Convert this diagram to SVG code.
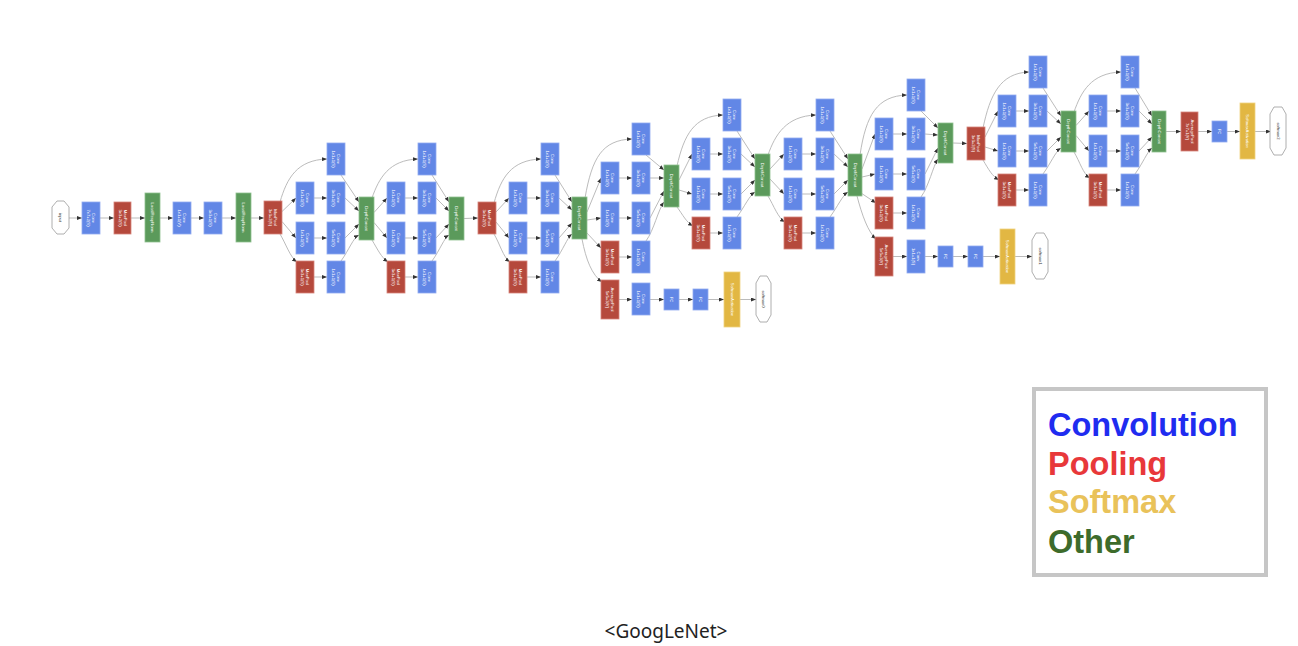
<svg xmlns="http://www.w3.org/2000/svg" width="1298" height="646" viewBox="0 0 1298 646">
<style>
.cv{fill:#6287e6;stroke:#92abf0;stroke-width:0.8}
.pl{fill:#b5493c;stroke:#d6847a;stroke-width:0.8}
.ot{fill:#5b9a5b;stroke:#8fc08f;stroke-width:0.8}
.sm{fill:#e2b743;stroke:#f0d27f;stroke-width:0.8}
.io{fill:#ffffff;stroke:#9a9a9a;stroke-width:0.8}
.t{font-family:"Liberation Sans",Arial,sans-serif;font-size:4.2px;fill:#ffffff;text-anchor:middle}
.ti{font-family:"Liberation Sans",Arial,sans-serif;font-size:4.2px;fill:#333333;text-anchor:middle}
.e path{fill:none;stroke:#b3b3b3;stroke-width:0.9;marker-end:url(#ah)}
.lg{font-family:"Liberation Sans",Arial,sans-serif;font-size:32.5px;font-weight:bold}
</style>
<defs>
<marker id="ah" markerUnits="userSpaceOnUse" markerWidth="5" markerHeight="4" refX="5" refY="2" orient="auto"><path d="M0,0 L5,2 L0,4 z" fill="#333333"/></marker>
</defs>
<rect width="1298" height="646" fill="#ffffff"/>

<g id="connectors" class="e">
<path d="M69,218 L82,218"/><path d="M100,218 L114,218"/><path d="M131,218 L145,218"/><path d="M160,218 L173,218"/><path d="M191,218 L204,218"/><path d="M222,218 L236,218"/><path d="M251,218 L264,218"/>
<!-- 3a -->
<path d="M280,202 C287,178 297,160 327,159"/><path d="M282,211.5 L296,198"/><path d="M282,221.5 L296,238"/><path d="M280,234 C286,244 290,257 297,262"/>
<path d="M314,198 L327,198"/><path d="M314,238 L327,238"/><path d="M314,277 L327,277"/>
<path d="M341,175 L359,202"/><path d="M345,198 L359,211"/><path d="M345,238 L359,224"/><path d="M341,261 C349,250 353,238 359,235"/>
<!-- 3b -->
<path d="M372,198 C379,178 389,160 418,159"/><path d="M374,212.5 L387,198"/><path d="M374,222.5 L387,238"/><path d="M372,240 C378,250 381,257 388,262"/>
<path d="M405,198 L418,198"/><path d="M405,238 L418,238"/><path d="M405,277 L418,277"/>
<path d="M432,175 L449,202"/><path d="M436,198 L449,211"/><path d="M436,238 L449,224"/><path d="M432,261 C440,250 444,238 449,235"/>
<path d="M464,218.5 L478,218"/>
<!-- 4a -->
<path d="M494,203 C501,178 511,160 541,159"/><path d="M496,212 L509,198"/><path d="M496,222 L509,238"/><path d="M494,234 C500,244 503,257 510,262"/>
<path d="M527,198 L541,198"/><path d="M527,238 L541,238"/><path d="M527,277 L541,277"/>
<path d="M555,175 L572,202"/><path d="M559,198 L572,210"/><path d="M559,238 L572,223"/><path d="M555,261 C563,250 567,238 572,234"/>
<!-- 4b -->
<path d="M585,198 C592,158 602,140 632,139"/><path d="M587,212 L601,178"/><path d="M587,220 L601,218"/><path d="M586,232 L601,248"/>
<path d="M582,239 C586,260 592,275 602,282"/>
<path d="M619,178 L632,178"/><path d="M619,218 L632,218"/><path d="M619,257 L632,257"/>
<path d="M646,155 L664,170"/><path d="M650,178 L664,178"/><path d="M650,218 L664,191"/><path d="M646,241 C654,230 658,210 664,202"/>
<path d="M619,299.5 L632,299.5"/><path d="M650,299.5 L664,299.5"/><path d="M679,299.5 L693,299.5"/><path d="M708,299.5 L724,299.5"/><path d="M740,299.5 L756,299.5"/>
<!-- 4c -->
<path d="M677,166 C684,135 694,116 723,115"/><path d="M679,180 L692,154"/><path d="M679,190 L692,194"/><path d="M677,207 C683,215 686,222 693,226"/>
<path d="M710,154 L723,154"/><path d="M710,194 L723,194"/><path d="M710,233 L723,233"/>
<path d="M737,131 L755,159"/><path d="M741,154 L755,167"/><path d="M741,194 L755,180"/><path d="M737,217 C745,206 749,196 755,192"/>
<!-- 4d -->
<path d="M768,155 C775,135 786,116 816,115"/><path d="M770,169 L784,154"/><path d="M770,179 L784,194"/><path d="M768,196 C774,206 778,218 785,222"/>
<path d="M802,154 L816,154"/><path d="M802,194 L816,194"/><path d="M802,233 L816,233"/>
<path d="M830,131 L848,159"/><path d="M834,154 L848,167"/><path d="M834,194 L848,180"/><path d="M830,217 C838,206 842,196 848,192"/>
<!-- 4e -->
<path d="M860,155 C866,115 877,96 907,95"/><path d="M862,169 L875,134"/><path d="M862,177 L875,174"/><path d="M861,193 L876,203"/>
<path d="M857,196 C862,215 868,232 876,239"/>
<path d="M893,134 L907,134"/><path d="M893,174 L907,174"/><path d="M893,213 L907,213"/>
<path d="M921,111 L938,128"/><path d="M925,134 L938,135"/><path d="M925,174 L938,148"/><path d="M921,197 C929,186 933,166 938,159"/>
<path d="M893,256.5 L907,256.5"/><path d="M925,256.5 L938,256.5"/><path d="M953,256.5 L968,256.5"/><path d="M983,256.5 L1000,256.5"/><path d="M1015,256.5 L1032,256.5"/>
<path d="M953,143 L967,143.5"/>
<!-- 5a -->
<path d="M983,128 C990,95 1000,73 1029,72"/><path d="M985,137 L998,111"/><path d="M985,147 L998,151"/><path d="M983,160 C989,170 992,176 999,180"/>
<path d="M1016,111 L1029,111"/><path d="M1016,151 L1029,151"/><path d="M1016,190 L1029,190"/>
<path d="M1043,88 L1061,116"/><path d="M1047,111 L1061,124"/><path d="M1047,151 L1061,137"/><path d="M1043,174 C1051,163 1055,152 1061,148"/>
<!-- 5b -->
<path d="M1074,112 C1081,92 1091,73 1121,72"/><path d="M1076,125.5 L1089,111"/><path d="M1076,135.5 L1089,151"/><path d="M1074,152 C1080,162 1083,174 1090,178"/>
<path d="M1107,111 L1121,111"/><path d="M1107,151 L1121,151"/><path d="M1107,190 L1121,190"/>
<path d="M1135,88 L1152,116"/><path d="M1139,111 L1152,124"/><path d="M1139,151 L1152,137"/><path d="M1135,174 C1143,163 1147,152 1152,148"/>
<path d="M1166,131.5 L1181,131.5"/><path d="M1198,131.5 L1212,131.5"/><path d="M1227,131.5 L1240,131.5"/><path d="M1255,131.5 L1271,131.5"/>
</g>

<!-- stem -->
<g id="input"><path class="io" d="M57,201 L64,201 L69,207 L69,228 L64,234 L57,234 L52,228 L52,207 Z"/><text class="ti" transform="translate(60.5 217.5) rotate(90)" y="1.5">input</text></g>
<g id="conv1"><rect class="cv" x="82" y="202" width="18" height="32"/><text class="t" transform="translate(91 218) rotate(90)"><tspan x="0" y="-1">Conv</tspan><tspan x="0" y="4">7x7+2(S)</tspan></text></g>
<g id="pool1"><rect class="pl" x="114" y="202" width="17" height="32"/><text class="t" transform="translate(122.5 218) rotate(90)"><tspan x="0" y="-1">MaxPool</tspan><tspan x="0" y="4">3x3+2(S)</tspan></text></g>
<g id="lrn1"><rect class="ot" x="145" y="193" width="15" height="49"/><text class="t" transform="translate(152.5 217.5) rotate(90)" y="1.5">LocalRespNorm</text></g>
<g id="conv2"><rect class="cv" x="173" y="202" width="18" height="32"/><text class="t" transform="translate(182 218) rotate(90)"><tspan x="0" y="-1">Conv</tspan><tspan x="0" y="4">1x1+1(V)</tspan></text></g>
<g id="conv3"><rect class="cv" x="204" y="202" width="18" height="32"/><text class="t" transform="translate(213 218) rotate(90)"><tspan x="0" y="-1">Conv</tspan><tspan x="0" y="4">3x3+1(S)</tspan></text></g>
<g id="lrn2"><rect class="ot" x="236" y="193" width="15" height="49"/><text class="t" transform="translate(243.5 217.5) rotate(90)" y="1.5">LocalRespNorm</text></g>
<g id="pool2"><rect class="pl" x="264" y="201" width="18" height="33"/><text class="t" transform="translate(273 217.5) rotate(90)"><tspan x="0" y="-1">MaxPool</tspan><tspan x="0" y="4">3x3+2(S)</tspan></text></g>

<!-- inception 3a -->
<g id="i3a_1"><rect class="cv" x="327" y="143" width="18" height="32"/><text class="t" transform="translate(336 159) rotate(90)"><tspan x="0" y="-1">Conv</tspan><tspan x="0" y="4">1x1+1(S)</tspan></text></g>
<g id="i3a_2a"><rect class="cv" x="296" y="182" width="18" height="32"/><text class="t" transform="translate(305 198) rotate(90)"><tspan x="0" y="-1">Conv</tspan><tspan x="0" y="4">1x1+1(S)</tspan></text></g>
<g id="i3a_2b"><rect class="cv" x="327" y="182" width="18" height="32"/><text class="t" transform="translate(336 198) rotate(90)"><tspan x="0" y="-1">Conv</tspan><tspan x="0" y="4">3x3+1(S)</tspan></text></g>
<g id="i3a_3a"><rect class="cv" x="296" y="222" width="18" height="32"/><text class="t" transform="translate(305 238) rotate(90)"><tspan x="0" y="-1">Conv</tspan><tspan x="0" y="4">1x1+1(S)</tspan></text></g>
<g id="i3a_3b"><rect class="cv" x="327" y="222" width="18" height="32"/><text class="t" transform="translate(336 238) rotate(90)"><tspan x="0" y="-1">Conv</tspan><tspan x="0" y="4">5x5+1(S)</tspan></text></g>
<g id="i3a_4a"><rect class="pl" x="296" y="261" width="18" height="32"/><text class="t" transform="translate(305 277) rotate(90)"><tspan x="0" y="-1">MaxPool</tspan><tspan x="0" y="4">3x3+1(S)</tspan></text></g>
<g id="i3a_4b"><rect class="cv" x="327" y="261" width="18" height="32"/><text class="t" transform="translate(336 277) rotate(90)"><tspan x="0" y="-1">Conv</tspan><tspan x="0" y="4">1x1+1(S)</tspan></text></g>
<g id="i3a_dc"><rect class="ot" x="359" y="197" width="15" height="43"/><text class="t" transform="translate(366.5 218.5) rotate(90)" y="1.5">DepthConcat</text></g>

<!-- inception 3b -->
<g id="i3b_1"><rect class="cv" x="418" y="143" width="18" height="32"/><text class="t" transform="translate(427 159) rotate(90)"><tspan x="0" y="-1">Conv</tspan><tspan x="0" y="4">1x1+1(S)</tspan></text></g>
<g id="i3b_2a"><rect class="cv" x="387" y="182" width="18" height="32"/><text class="t" transform="translate(396 198) rotate(90)"><tspan x="0" y="-1">Conv</tspan><tspan x="0" y="4">1x1+1(S)</tspan></text></g>
<g id="i3b_2b"><rect class="cv" x="418" y="182" width="18" height="32"/><text class="t" transform="translate(427 198) rotate(90)"><tspan x="0" y="-1">Conv</tspan><tspan x="0" y="4">3x3+1(S)</tspan></text></g>
<g id="i3b_3a"><rect class="cv" x="387" y="222" width="18" height="32"/><text class="t" transform="translate(396 238) rotate(90)"><tspan x="0" y="-1">Conv</tspan><tspan x="0" y="4">1x1+1(S)</tspan></text></g>
<g id="i3b_3b"><rect class="cv" x="418" y="222" width="18" height="32"/><text class="t" transform="translate(427 238) rotate(90)"><tspan x="0" y="-1">Conv</tspan><tspan x="0" y="4">5x5+1(S)</tspan></text></g>
<g id="i3b_4a"><rect class="pl" x="387" y="261" width="18" height="32"/><text class="t" transform="translate(396 277) rotate(90)"><tspan x="0" y="-1">MaxPool</tspan><tspan x="0" y="4">3x3+1(S)</tspan></text></g>
<g id="i3b_4b"><rect class="cv" x="418" y="261" width="18" height="32"/><text class="t" transform="translate(427 277) rotate(90)"><tspan x="0" y="-1">Conv</tspan><tspan x="0" y="4">1x1+1(S)</tspan></text></g>
<g id="i3b_dc"><rect class="ot" x="449" y="197" width="15" height="43"/><text class="t" transform="translate(456.5 218.5) rotate(90)" y="1.5">DepthConcat</text></g>

<g id="pool3"><rect class="pl" x="478" y="202" width="18" height="32"/><text class="t" transform="translate(487 218) rotate(90)"><tspan x="0" y="-1">MaxPool</tspan><tspan x="0" y="4">3x3+2(S)</tspan></text></g>

<!-- inception 4a -->
<g id="i4a_1"><rect class="cv" x="541" y="143" width="18" height="32"/><text class="t" transform="translate(550 159) rotate(90)"><tspan x="0" y="-1">Conv</tspan><tspan x="0" y="4">1x1+1(S)</tspan></text></g>
<g id="i4a_2a"><rect class="cv" x="509" y="182" width="18" height="32"/><text class="t" transform="translate(518 198) rotate(90)"><tspan x="0" y="-1">Conv</tspan><tspan x="0" y="4">1x1+1(S)</tspan></text></g>
<g id="i4a_2b"><rect class="cv" x="541" y="182" width="18" height="32"/><text class="t" transform="translate(550 198) rotate(90)"><tspan x="0" y="-1">Conv</tspan><tspan x="0" y="4">3x3+1(S)</tspan></text></g>
<g id="i4a_3a"><rect class="cv" x="509" y="222" width="18" height="32"/><text class="t" transform="translate(518 238) rotate(90)"><tspan x="0" y="-1">Conv</tspan><tspan x="0" y="4">1x1+1(S)</tspan></text></g>
<g id="i4a_3b"><rect class="cv" x="541" y="222" width="18" height="32"/><text class="t" transform="translate(550 238) rotate(90)"><tspan x="0" y="-1">Conv</tspan><tspan x="0" y="4">5x5+1(S)</tspan></text></g>
<g id="i4a_4a"><rect class="pl" x="509" y="261" width="18" height="32"/><text class="t" transform="translate(518 277) rotate(90)"><tspan x="0" y="-1">MaxPool</tspan><tspan x="0" y="4">3x3+1(S)</tspan></text></g>
<g id="i4a_4b"><rect class="cv" x="541" y="261" width="18" height="32"/><text class="t" transform="translate(550 277) rotate(90)"><tspan x="0" y="-1">Conv</tspan><tspan x="0" y="4">1x1+1(S)</tspan></text></g>
<g id="i4a_dc"><rect class="ot" x="572" y="197" width="15" height="42"/><text class="t" transform="translate(579.5 218) rotate(90)" y="1.5">DepthConcat</text></g>

<!-- inception 4b -->
<g id="i4b_1"><rect class="cv" x="632" y="123" width="18" height="32"/><text class="t" transform="translate(641 139) rotate(90)"><tspan x="0" y="-1">Conv</tspan><tspan x="0" y="4">1x1+1(S)</tspan></text></g>
<g id="i4b_2a"><rect class="cv" x="601" y="162" width="18" height="32"/><text class="t" transform="translate(610 178) rotate(90)"><tspan x="0" y="-1">Conv</tspan><tspan x="0" y="4">1x1+1(S)</tspan></text></g>
<g id="i4b_2b"><rect class="cv" x="632" y="162" width="18" height="32"/><text class="t" transform="translate(641 178) rotate(90)"><tspan x="0" y="-1">Conv</tspan><tspan x="0" y="4">3x3+1(S)</tspan></text></g>
<g id="i4b_3a"><rect class="cv" x="601" y="202" width="18" height="32"/><text class="t" transform="translate(610 218) rotate(90)"><tspan x="0" y="-1">Conv</tspan><tspan x="0" y="4">1x1+1(S)</tspan></text></g>
<g id="i4b_3b"><rect class="cv" x="632" y="202" width="18" height="32"/><text class="t" transform="translate(641 218) rotate(90)"><tspan x="0" y="-1">Conv</tspan><tspan x="0" y="4">5x5+1(S)</tspan></text></g>
<g id="i4b_4a"><rect class="pl" x="601" y="241" width="18" height="32"/><text class="t" transform="translate(610 257) rotate(90)"><tspan x="0" y="-1">MaxPool</tspan><tspan x="0" y="4">3x3+1(S)</tspan></text></g>
<g id="i4b_4b"><rect class="cv" x="632" y="241" width="18" height="32"/><text class="t" transform="translate(641 257) rotate(90)"><tspan x="0" y="-1">Conv</tspan><tspan x="0" y="4">1x1+1(S)</tspan></text></g>
<g id="i4b_dc"><rect class="ot" x="664" y="165" width="15" height="42"/><text class="t" transform="translate(671.5 186) rotate(90)" y="1.5">DepthConcat</text></g>

<!-- aux 0 -->
<g id="aux0_pool"><rect class="pl" x="601" y="280" width="18" height="39"/><text class="t" transform="translate(610 299.5) rotate(90)"><tspan x="0" y="-1">AveragePool</tspan><tspan x="0" y="4">5x5+3(V)</tspan></text></g>
<g id="aux0_conv"><rect class="cv" x="632" y="283" width="18" height="32"/><text class="t" transform="translate(641 299) rotate(90)"><tspan x="0" y="-1">Conv</tspan><tspan x="0" y="4">1x1+1(S)</tspan></text></g>
<g id="aux0_fc1"><rect class="cv" x="664" y="289" width="15" height="21"/><text class="t" transform="translate(671.5 299.5) rotate(90)" y="1.5">FC</text></g>
<g id="aux0_fc2"><rect class="cv" x="693" y="289" width="15" height="21"/><text class="t" transform="translate(700.5 299.5) rotate(90)" y="1.5">FC</text></g>
<g id="aux0_sm"><rect class="sm" x="724" y="272" width="16" height="55"/><text class="t" transform="translate(732 299.5) rotate(90)" y="1.5">SoftmaxActivation</text></g>
<g id="softmax0"><path class="io" d="M760,276 L767,276 L771,283 L771,315 L767,322 L760,322 L756,315 L756,283 Z"/><text class="ti" transform="translate(763.5 299) rotate(90)" y="1.5">softmax0</text></g>

<!-- inception 4c -->
<g id="i4c_1"><rect class="cv" x="723" y="99" width="18" height="32"/><text class="t" transform="translate(732 115) rotate(90)"><tspan x="0" y="-1">Conv</tspan><tspan x="0" y="4">1x1+1(S)</tspan></text></g>
<g id="i4c_2a"><rect class="cv" x="692" y="138" width="18" height="32"/><text class="t" transform="translate(701 154) rotate(90)"><tspan x="0" y="-1">Conv</tspan><tspan x="0" y="4">1x1+1(S)</tspan></text></g>
<g id="i4c_2b"><rect class="cv" x="723" y="138" width="18" height="32"/><text class="t" transform="translate(732 154) rotate(90)"><tspan x="0" y="-1">Conv</tspan><tspan x="0" y="4">3x3+1(S)</tspan></text></g>
<g id="i4c_3a"><rect class="cv" x="692" y="178" width="18" height="32"/><text class="t" transform="translate(701 194) rotate(90)"><tspan x="0" y="-1">Conv</tspan><tspan x="0" y="4">1x1+1(S)</tspan></text></g>
<g id="i4c_3b"><rect class="cv" x="723" y="178" width="18" height="32"/><text class="t" transform="translate(732 194) rotate(90)"><tspan x="0" y="-1">Conv</tspan><tspan x="0" y="4">5x5+1(S)</tspan></text></g>
<g id="i4c_4a"><rect class="pl" x="692" y="217" width="18" height="32"/><text class="t" transform="translate(701 233) rotate(90)"><tspan x="0" y="-1">MaxPool</tspan><tspan x="0" y="4">3x3+1(S)</tspan></text></g>
<g id="i4c_4b"><rect class="cv" x="723" y="217" width="18" height="32"/><text class="t" transform="translate(732 233) rotate(90)"><tspan x="0" y="-1">Conv</tspan><tspan x="0" y="4">1x1+1(S)</tspan></text></g>
<g id="i4c_dc"><rect class="ot" x="755" y="154" width="15" height="42"/><text class="t" transform="translate(762.5 175) rotate(90)" y="1.5">DepthConcat</text></g>

<!-- inception 4d -->
<g id="i4d_1"><rect class="cv" x="816" y="99" width="18" height="32"/><text class="t" transform="translate(825 115) rotate(90)"><tspan x="0" y="-1">Conv</tspan><tspan x="0" y="4">1x1+1(S)</tspan></text></g>
<g id="i4d_2a"><rect class="cv" x="784" y="138" width="18" height="32"/><text class="t" transform="translate(793 154) rotate(90)"><tspan x="0" y="-1">Conv</tspan><tspan x="0" y="4">1x1+1(S)</tspan></text></g>
<g id="i4d_2b"><rect class="cv" x="816" y="138" width="18" height="32"/><text class="t" transform="translate(825 154) rotate(90)"><tspan x="0" y="-1">Conv</tspan><tspan x="0" y="4">3x3+1(S)</tspan></text></g>
<g id="i4d_3a"><rect class="cv" x="784" y="178" width="18" height="32"/><text class="t" transform="translate(793 194) rotate(90)"><tspan x="0" y="-1">Conv</tspan><tspan x="0" y="4">1x1+1(S)</tspan></text></g>
<g id="i4d_3b"><rect class="cv" x="816" y="178" width="18" height="32"/><text class="t" transform="translate(825 194) rotate(90)"><tspan x="0" y="-1">Conv</tspan><tspan x="0" y="4">5x5+1(S)</tspan></text></g>
<g id="i4d_4a"><rect class="pl" x="784" y="217" width="18" height="32"/><text class="t" transform="translate(793 233) rotate(90)"><tspan x="0" y="-1">MaxPool</tspan><tspan x="0" y="4">3x3+1(S)</tspan></text></g>
<g id="i4d_4b"><rect class="cv" x="816" y="217" width="18" height="32"/><text class="t" transform="translate(825 233) rotate(90)"><tspan x="0" y="-1">Conv</tspan><tspan x="0" y="4">1x1+1(S)</tspan></text></g>
<g id="i4d_dc"><rect class="ot" x="848" y="154" width="14" height="42"/><text class="t" transform="translate(855 175) rotate(90)" y="1.5">DepthConcat</text></g>

<!-- inception 4e -->
<g id="i4e_1"><rect class="cv" x="907" y="79" width="18" height="32"/><text class="t" transform="translate(916 95) rotate(90)"><tspan x="0" y="-1">Conv</tspan><tspan x="0" y="4">1x1+1(S)</tspan></text></g>
<g id="i4e_2a"><rect class="cv" x="875" y="118" width="18" height="32"/><text class="t" transform="translate(884 134) rotate(90)"><tspan x="0" y="-1">Conv</tspan><tspan x="0" y="4">1x1+1(S)</tspan></text></g>
<g id="i4e_2b"><rect class="cv" x="907" y="118" width="18" height="32"/><text class="t" transform="translate(916 134) rotate(90)"><tspan x="0" y="-1">Conv</tspan><tspan x="0" y="4">3x3+1(S)</tspan></text></g>
<g id="i4e_3a"><rect class="cv" x="875" y="158" width="18" height="32"/><text class="t" transform="translate(884 174) rotate(90)"><tspan x="0" y="-1">Conv</tspan><tspan x="0" y="4">1x1+1(S)</tspan></text></g>
<g id="i4e_3b"><rect class="cv" x="907" y="158" width="18" height="32"/><text class="t" transform="translate(916 174) rotate(90)"><tspan x="0" y="-1">Conv</tspan><tspan x="0" y="4">5x5+1(S)</tspan></text></g>
<g id="i4e_4a"><rect class="pl" x="875" y="197" width="18" height="32"/><text class="t" transform="translate(884 213) rotate(90)"><tspan x="0" y="-1">MaxPool</tspan><tspan x="0" y="4">3x3+1(S)</tspan></text></g>
<g id="i4e_4b"><rect class="cv" x="907" y="197" width="18" height="32"/><text class="t" transform="translate(916 213) rotate(90)"><tspan x="0" y="-1">Conv</tspan><tspan x="0" y="4">1x1+1(S)</tspan></text></g>
<g id="i4e_dc"><rect class="ot" x="938" y="123" width="15" height="40"/><text class="t" transform="translate(945.5 143) rotate(90)" y="1.5">DepthConcat</text></g>

<!-- aux 1 -->
<g id="aux1_pool"><rect class="pl" x="875" y="237" width="18" height="39"/><text class="t" transform="translate(884 256.5) rotate(90)"><tspan x="0" y="-1">AveragePool</tspan><tspan x="0" y="4">5x5+3(V)</tspan></text></g>
<g id="aux1_conv"><rect class="cv" x="907" y="240" width="18" height="33"/><text class="t" transform="translate(916 256.5) rotate(90)"><tspan x="0" y="-1">Conv</tspan><tspan x="0" y="4">1x1+1(S)</tspan></text></g>
<g id="aux1_fc1"><rect class="cv" x="938" y="246" width="15" height="21"/><text class="t" transform="translate(945.5 256.5) rotate(90)" y="1.5">FC</text></g>
<g id="aux1_fc2"><rect class="cv" x="968" y="246" width="15" height="21"/><text class="t" transform="translate(975.5 256.5) rotate(90)" y="1.5">FC</text></g>
<g id="aux1_sm"><rect class="sm" x="1000" y="229" width="15" height="55"/><text class="t" transform="translate(1007.5 256.5) rotate(90)" y="1.5">SoftmaxActivation</text></g>
<g id="softmax1"><path class="io" d="M1036,233 L1044,233 L1048,240 L1048,272 L1044,279 L1036,279 L1032,272 L1032,240 Z"/><text class="ti" transform="translate(1040 256) rotate(90)" y="1.5">softmax1</text></g>

<g id="pool4"><rect class="pl" x="967" y="127" width="18" height="33"/><text class="t" transform="translate(976 143.5) rotate(90)"><tspan x="0" y="-1">MaxPool</tspan><tspan x="0" y="4">3x3+2(S)</tspan></text></g>

<!-- inception 5a -->
<g id="i5a_1"><rect class="cv" x="1029" y="56" width="18" height="32"/><text class="t" transform="translate(1038 72) rotate(90)"><tspan x="0" y="-1">Conv</tspan><tspan x="0" y="4">1x1+1(S)</tspan></text></g>
<g id="i5a_2a"><rect class="cv" x="998" y="95" width="18" height="32"/><text class="t" transform="translate(1007 111) rotate(90)"><tspan x="0" y="-1">Conv</tspan><tspan x="0" y="4">1x1+1(S)</tspan></text></g>
<g id="i5a_2b"><rect class="cv" x="1029" y="95" width="18" height="32"/><text class="t" transform="translate(1038 111) rotate(90)"><tspan x="0" y="-1">Conv</tspan><tspan x="0" y="4">3x3+1(S)</tspan></text></g>
<g id="i5a_3a"><rect class="cv" x="998" y="135" width="18" height="32"/><text class="t" transform="translate(1007 151) rotate(90)"><tspan x="0" y="-1">Conv</tspan><tspan x="0" y="4">1x1+1(S)</tspan></text></g>
<g id="i5a_3b"><rect class="cv" x="1029" y="135" width="18" height="32"/><text class="t" transform="translate(1038 151) rotate(90)"><tspan x="0" y="-1">Conv</tspan><tspan x="0" y="4">5x5+1(S)</tspan></text></g>
<g id="i5a_4a"><rect class="pl" x="998" y="174" width="18" height="32"/><text class="t" transform="translate(1007 190) rotate(90)"><tspan x="0" y="-1">MaxPool</tspan><tspan x="0" y="4">3x3+1(S)</tspan></text></g>
<g id="i5a_4b"><rect class="cv" x="1029" y="174" width="18" height="32"/><text class="t" transform="translate(1038 190) rotate(90)"><tspan x="0" y="-1">Conv</tspan><tspan x="0" y="4">1x1+1(S)</tspan></text></g>
<g id="i5a_dc"><rect class="ot" x="1061" y="111" width="15" height="41"/><text class="t" transform="translate(1068.5 131.5) rotate(90)" y="1.5">DepthConcat</text></g>

<!-- inception 5b -->
<g id="i5b_1"><rect class="cv" x="1121" y="56" width="18" height="32"/><text class="t" transform="translate(1130 72) rotate(90)"><tspan x="0" y="-1">Conv</tspan><tspan x="0" y="4">1x1+1(S)</tspan></text></g>
<g id="i5b_2a"><rect class="cv" x="1089" y="95" width="18" height="32"/><text class="t" transform="translate(1098 111) rotate(90)"><tspan x="0" y="-1">Conv</tspan><tspan x="0" y="4">1x1+1(S)</tspan></text></g>
<g id="i5b_2b"><rect class="cv" x="1121" y="95" width="18" height="32"/><text class="t" transform="translate(1130 111) rotate(90)"><tspan x="0" y="-1">Conv</tspan><tspan x="0" y="4">3x3+1(S)</tspan></text></g>
<g id="i5b_3a"><rect class="cv" x="1089" y="135" width="18" height="32"/><text class="t" transform="translate(1098 151) rotate(90)"><tspan x="0" y="-1">Conv</tspan><tspan x="0" y="4">1x1+1(S)</tspan></text></g>
<g id="i5b_3b"><rect class="cv" x="1121" y="135" width="18" height="32"/><text class="t" transform="translate(1130 151) rotate(90)"><tspan x="0" y="-1">Conv</tspan><tspan x="0" y="4">5x5+1(S)</tspan></text></g>
<g id="i5b_4a"><rect class="pl" x="1089" y="174" width="18" height="32"/><text class="t" transform="translate(1098 190) rotate(90)"><tspan x="0" y="-1">MaxPool</tspan><tspan x="0" y="4">3x3+1(S)</tspan></text></g>
<g id="i5b_4b"><rect class="cv" x="1121" y="174" width="18" height="32"/><text class="t" transform="translate(1130 190) rotate(90)"><tspan x="0" y="-1">Conv</tspan><tspan x="0" y="4">1x1+1(S)</tspan></text></g>
<g id="i5b_dc"><rect class="ot" x="1152" y="111" width="14" height="41"/><text class="t" transform="translate(1159 131.5) rotate(90)" y="1.5">DepthConcat</text></g>

<!-- head -->
<g id="final_pool"><rect class="pl" x="1181" y="112" width="17" height="39"/><text class="t" transform="translate(1189.5 131.5) rotate(90)"><tspan x="0" y="-1">AveragePool</tspan><tspan x="0" y="4">7x7+1(V)</tspan></text></g>
<g id="final_fc"><rect class="cv" x="1212" y="121" width="15" height="21"/><text class="t" transform="translate(1219.5 131.5) rotate(90)" y="1.5">FC</text></g>
<g id="final_sm"><rect class="sm" x="1240" y="103" width="15" height="56"/><text class="t" transform="translate(1247.5 131) rotate(90)" y="1.5">SoftmaxActivation</text></g>
<g id="softmax2"><path class="io" d="M1274,107 L1282,107 L1286,114 L1286,148 L1282,155 L1274,155 L1270,148 L1270,114 Z"/><text class="ti" transform="translate(1278 131) rotate(90)" y="1.5">softmax2</text></g>

<!-- legend -->
<g id="legend">
<rect x="1034" y="389" width="232" height="186" fill="#ffffff" stroke="#c6c6c6" stroke-width="4"/>
<text class="lg" x="1048" y="436" fill="#1f2cf0">Convolution</text>
<text class="lg" x="1048" y="475" fill="#e8383a">Pooling</text>
<text class="lg" x="1048" y="513" fill="#e9c25a">Softmax</text>
<text class="lg" x="1048" y="553" fill="#3d6b2b">Other</text>
</g>

<text id="caption" x="666" y="638" font-family="'Noto Sans','Open Sans',sans-serif" font-size="19" fill="#222222" text-anchor="middle">&lt;GoogLeNet&gt;</text>
</svg>
